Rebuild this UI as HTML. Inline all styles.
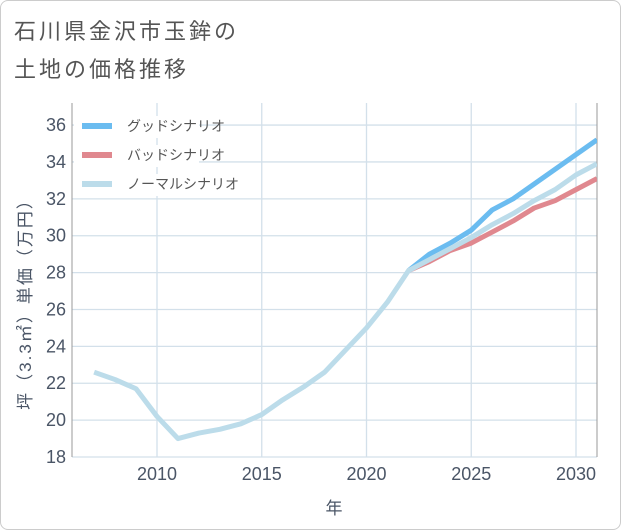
<!DOCTYPE html>
<html><head><meta charset="utf-8"><style>
body{margin:0;background:#fff;font-family:"Liberation Sans","Noto Sans CJK JP",sans-serif;}
#wrap{position:relative;width:619px;height:528px;border:1px solid #ccc;border-radius:8px;overflow:hidden;background:#fff}
</style></head><body>
<div id="wrap">
<svg id="c" width="621" height="530" style="position:absolute;left:-1px;top:-1px">
<text x="14" y="39" font-size="22" letter-spacing="3" fill="#555">石川県金沢市玉鉾の</text>
<text x="14" y="77" font-size="22" letter-spacing="3" fill="#555">土地の価格推移</text>
</svg>
</div>
<script>
const years=[2007,2008,2009,2010,2011,2012,2013,2014,2015,2016,2017,2018,2019,2020,2021,2022,2023,2024,2025,2026,2027,2028,2029,2030,2031];
const normal=[22.6,22.2,21.7,20.2,19.0,19.3,19.5,19.8,20.3,21.1,21.8,22.6,23.8,25.0,26.4,28.1,28.7,29.3,29.9,30.6,31.2,31.9,32.5,33.3,33.9];
const fYears=[2022,2023,2024,2025,2026,2027,2028,2029,2030,2031];
const good=[28.1,29.0,29.6,30.3,31.4,32.0,32.8,33.6,34.4,35.2];
const bad=[28.1,28.6,29.2,29.6,30.2,30.8,31.5,31.9,32.5,33.1];
const yTicks=[18,20,22,24,26,28,30,32,34,36];
const xTicks=[2010,2015,2020,2025,2030];
const svg=document.getElementById('c');const NS='http://www.w3.org/2000/svg';
const L=72,R=597,T=103,B=457;
const xs=y=>157+(y-2010)*20.95;
const ys=v=>457-(v-18)*18.44;
function mk(t,a){const e=document.createElementNS(NS,t);for(const k in a)e.setAttribute(k,a[k]);svg.appendChild(e);return e;}
for(const v of yTicks){const g=mk('line',{x1:L,x2:R,y1:ys(v),y2:ys(v),stroke:'#d3e0ea','stroke-width':1.3});


const t=mk('text',{x:L-6,y:ys(v)+6,'font-size':18,fill:'#4a5566','text-anchor':'end'});t.textContent=v;

}
for(const v of xTicks){const g=mk('line',{x1:xs(v),x2:xs(v),y1:T,y2:B,stroke:'#d3e0ea','stroke-width':1.3});


const t=mk('text',{x:xs(v),y:B+23,'font-size':18,fill:'#4a5566','text-anchor':'middle'});t.textContent=v;

}
const ax=mk('line',{x1:L,x2:L,y1:T,y2:B,stroke:'#999','stroke-width':1});


const ax2=mk('line',{x1:R,x2:R,y1:T,y2:B,stroke:'#999','stroke-width':1});


const clip=mk('clipPath',{id:'cp'});const cr=document.createElementNS(NS,'rect');
cr.setAttribute('x',L);cr.setAttribute('y',T);cr.setAttribute('width',R-L);cr.setAttribute('height',B-T);clip.appendChild(cr);
function line(xa,va,col,name){const p=mk('polyline',{points:xa.map((y,i)=>xs(y)+','+ys(va[i])).join(' '),fill:'none',stroke:col,'stroke-width':5,'stroke-linejoin':'round','clip-path':'url(#cp)'});

}
line(fYears,good,'#6bbcf0','good-scenario-line');
line(fYears,bad,'#e0888f','bad-scenario-line');
line(years,normal,'#bcdcea','normal-scenario-line');
const leg=[['グッドシナリオ','#6bbcf0'],['バッドシナリオ','#e0888f'],['ノーマルシナリオ','#bcdcea']];
leg.forEach((l,i)=>{const y=126+i*29;
mk('rect',{x:74,y:y-10,width:125,height:22,fill:'#fff'});
const r=mk('rect',{x:82,y:y-3,width:30,height:6,fill:l[1]});


const t=mk('text',{x:127,y:y+5,'font-size':14,fill:'#555'});t.textContent=l[0];

});
const yt=mk('text',{transform:'translate(31,300) rotate(-90)','font-size':17,'letter-spacing':2,fill:'#4a5566','text-anchor':'middle'});yt.textContent='坪（3.3㎡）単価（万円）';


const xt=mk('text',{x:334,y:514,'font-size':17,fill:'#4a5566','text-anchor':'middle'});xt.textContent='年';


</script>
</body></html>
